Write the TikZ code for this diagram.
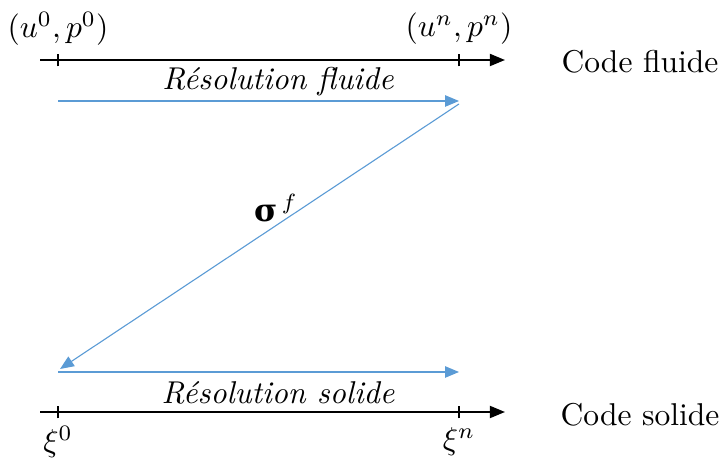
\documentclass[tikz,border=0pt]{standalone}
\usepackage{amsmath}
\usepackage{fontspec}
\newfontfamily\sigfont{DejaVu Serif}
\usetikzlibrary{arrows.meta}
\definecolor{lblue}{RGB}{91,155,213}
\begin{document}
\begin{tikzpicture}[x=0.317pt,y=-0.317pt,
  axis/.style={line width=0.65pt,-{Triangle[length=4.8pt,width=3.8pt]}},
  tick/.style={line width=0.55pt},
  flow/.style={lblue,line width=0.35pt,-{Triangle[length=4.4pt,width=3.6pt]}},
  lab/.style={inner sep=0pt}]
\useasboundingbox (0,0) rectangle (720,468);
% axes
\coordinate (fa0) at (40,60); \coordinate (fa1) at (505,60);
\coordinate (sa0) at (40,412); \coordinate (sa1) at (505,412);
\draw[axis] (fa0) -- (fa1);
\draw[axis] (sa0) -- (sa1);
\foreach \x/\n in {58/a,459/b}{
  \coordinate (ft\n) at (\x,60); \coordinate (st\n) at (\x,412);
  \draw[tick] ([yshift=-2pt]ft\n) -- ([yshift=2pt]ft\n);
  \draw[tick] ([yshift=-2pt]st\n) -- ([yshift=2pt]st\n);
}
% labels
\node[lab] (u0) at (58,29) {$(u^0,p^0)$};
\node[lab] (un) at (459,29) {$(u^n,p^n)$};
\node[lab] (x0) at (58,442) {$\xi^0$};
\node[lab] (xn) at (459,442) {$\xi^n$};
\node[lab] (cf) at (640,62) {Code fluide};
\node[lab] (cs) at (640,415) {Code solide};
\node[lab] (rf) at (278,82) {\itshape R\'esolution fluide};
\node[lab] (rs) at (278,393) {\itshape R\'esolution solide};
% blue flow arrows
\coordinate (p1) at (58,101); \coordinate (p2) at (459,101);
\coordinate (p3) at (459,104); \coordinate (p4) at (60,369);
\coordinate (p5) at (58,372); \coordinate (p6) at (459,372);
\draw[flow] (p1) -- (p2);
\draw[flow] (p3) -- (p4);
\draw[flow] (p5) -- (p6);
\node[lab] (sig) at (276,208) {{\sigfont\bfseries σ}$^{\,f}$};
\end{tikzpicture}
\end{document}
